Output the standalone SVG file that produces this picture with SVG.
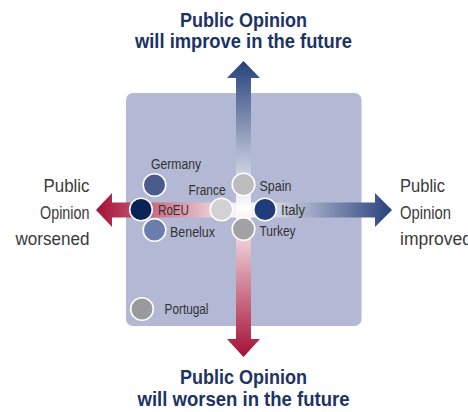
<svg xmlns="http://www.w3.org/2000/svg" width="468" height="412" viewBox="0 0 468 412">
<defs>
<linearGradient id="gh" gradientUnits="userSpaceOnUse" x1="96" y1="0" x2="392" y2="0">
<stop offset="0" stop-color="#a50f36"/>
<stop offset="0.5" stop-color="#ffffff"/>
<stop offset="1" stop-color="#27417b"/>
</linearGradient>
<linearGradient id="gv" gradientUnits="userSpaceOnUse" x1="0" y1="61" x2="0" y2="357">
<stop offset="0" stop-color="#27417b"/>
<stop offset="0.5" stop-color="#ffffff"/>
<stop offset="1" stop-color="#a50f36"/>
</linearGradient>
<style>
.title{font-family:"Liberation Sans Narrow","Liberation Sans",Arial,sans-serif;font-weight:bold;font-size:19.5px;fill:#1b3366;text-anchor:middle}
.side{font-family:"Liberation Sans Narrow","Liberation Sans",Arial,sans-serif;font-size:17.5px;fill:#3a3a3a}
.lbl{font-family:"Liberation Sans Narrow","Liberation Sans",Arial,sans-serif;font-size:15.5px;fill:#333333}
.dot{stroke:#ffffff;stroke-width:1.6}
</style>
</defs>
<rect id="panel" x="126" y="93" width="235.5" height="233" rx="7" fill="#b3b8d5"/>
<g id="connectors">
<polygon fill="url(#gh)" points="96,210 112,193 112,202.5 375,202.5 375,193 392,210 375,227 375,217.5 112,217.5 112,227"/>
<polygon fill="url(#gv)" points="243.5,61 260,78 251,78 251,339 260,339 243.5,357 227,339 236,339 236,78 227,78"/>
</g>
<g id="title-top">
<text class="title" x="243.5" y="27" textLength="127" lengthAdjust="spacingAndGlyphs">Public Opinion</text>
<text class="title" x="243.5" y="48" textLength="217" lengthAdjust="spacingAndGlyphs">will improve in the future</text>
</g>
<g id="title-bottom">
<text class="title" x="243.5" y="384" textLength="127" lengthAdjust="spacingAndGlyphs">Public Opinion</text>
<text class="title" x="243.5" y="406" textLength="212" lengthAdjust="spacingAndGlyphs">will worsen in the future</text>
</g>
<g id="label-worsened" class="side">
<text x="43.5" y="192" textLength="46" lengthAdjust="spacingAndGlyphs">Public</text>
<text x="40" y="218.5" textLength="49.5" lengthAdjust="spacingAndGlyphs">Opinion</text>
<text x="15.5" y="245" textLength="74" lengthAdjust="spacingAndGlyphs">worsened</text>
</g>
<g id="label-improved" class="side">
<text x="400" y="192" textLength="45" lengthAdjust="spacingAndGlyphs">Public</text>
<text x="400" y="218.5" textLength="51" lengthAdjust="spacingAndGlyphs">Opinion</text>
<text x="400" y="245" textLength="72" lengthAdjust="spacingAndGlyphs">improved</text>
</g>
<g id="germany"><circle class="dot" cx="154.5" cy="185" r="11.3" fill="#4b5b8c"/><text class="lbl" x="151" y="168.5" textLength="50" lengthAdjust="spacingAndGlyphs">Germany</text></g>
<g id="roeu"><circle class="dot" cx="141" cy="209.5" r="11.3" fill="#0b2257"/><text class="lbl" x="158" y="215" textLength="31" lengthAdjust="spacingAndGlyphs">RoEU</text></g>
<g id="benelux"><circle class="dot" cx="154.5" cy="230" r="11.3" fill="#6c7cae"/><text class="lbl" x="170" y="236.5" textLength="45" lengthAdjust="spacingAndGlyphs">Benelux</text></g>
<g id="france"><circle class="dot" cx="221.5" cy="209.5" r="11.3" fill="#d2d2d4"/><text class="lbl" x="188.5" y="194.5" textLength="37" lengthAdjust="spacingAndGlyphs">France</text></g>
<g id="spain"><circle class="dot" cx="243.5" cy="184.5" r="11.3" fill="#bcbcbe"/><text class="lbl" x="259.5" y="191" textLength="32" lengthAdjust="spacingAndGlyphs">Spain</text></g>
<g id="italy"><circle class="dot" cx="265" cy="209.5" r="11.3" fill="#203c7a"/><text class="lbl" x="281" y="215" textLength="24" lengthAdjust="spacingAndGlyphs">Italy</text></g>
<g id="turkey"><circle class="dot" cx="243.5" cy="229" r="11.3" fill="#a2a2a4"/><text class="lbl" x="259.5" y="235.5" textLength="36" lengthAdjust="spacingAndGlyphs">Turkey</text></g>
<g id="portugal"><circle class="dot" cx="142" cy="309" r="11.3" fill="#9a9a9c"/><text class="lbl" x="164.5" y="314" textLength="44" lengthAdjust="spacingAndGlyphs">Portugal</text></g>
</svg>
